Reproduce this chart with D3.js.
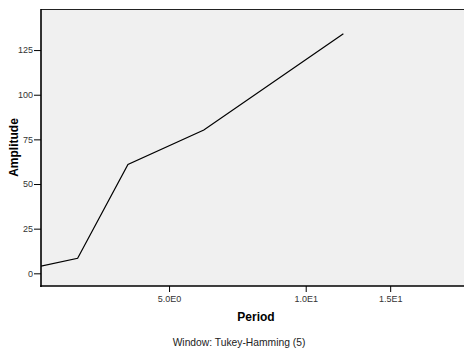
<!DOCTYPE html>
<html>
<head>
<meta charset="utf-8">
<script src="https://cdn.jsdelivr.net/npm/d3@7"></script>
<style>
  body { margin: 0; background: #fff; }
  svg { display: block; font-family: "Liberation Sans", Arial, sans-serif; }
</style>
</head>
<body>
<svg></svg>
<script>
var width = 464;
var height = 351;
var margin = {top: 9, bottom: 65, left: 41, right: -8};

// periodogram values
var periods = [2.4, 3, 4, 6, 12];
var amplitude = [4.0, 8.4, 61.0, 80.2, 134.2];
var yTicks = [0, 25, 50, 75, 100, 125];
var xTicks = [5, 10, 15];
var xTickLabels = ["5.0E0", "1.0E1", "1.5E1"];

var data = periods.map(function(p, i){ return {period: p, amp: amplitude[i]}; });

var svg = d3.select("svg")
    .attr("width", width)
    .attr("height", height);

// period axis is log(1+p) spaced
var xScale = d3.scaleSymlog().constant(1)
    .domain([2.4, 22])
    .range([margin.left, width - margin.right]);

var yScale = d3.scaleLinear()
    .domain([-7.1, 148])
    .range([height - margin.bottom - 0, margin.top]);

var x0 = margin.left, x1 = width - margin.right;
var y0 = height - margin.bottom, y1 = margin.top;

// plot background
svg.append("rect")
    .attr("x", x0).attr("y", y1)
    .attr("width", x1 - x0).attr("height", y0 - y1)
    .attr("fill", "#f0f0f0");

svg.append("line")
    .attr("x1", x0).attr("x2", x1)
    .attr("y1", y1 + 0.5).attr("y2", y1 + 0.5)
    .attr("stroke", "#222").attr("stroke-width", 1);

svg.append("clipPath").attr("id", "clip")
  .append("rect")
    .attr("x", x0).attr("y", y1)
    .attr("width", x1 - x0).attr("height", y0 - y1);

var line = d3.line()
    .x(function(d){ return xScale(d.period); })
    .y(function(d){ return yScale(d.amp); });

svg.append("path")
    .attr("d", line(data))
    .attr("clip-path", "url(#clip)")
    .attr("fill", "none")
    .attr("stroke", "#000")
    .attr("stroke-width", 1.2);

//Axes
var yAxis = d3.axisLeft(yScale)
    .tickValues(yTicks)
    .tickSize(7)
    .tickPadding(1)
    .tickFormat(d3.format("d"));

var xAxis = d3.axisBottom(xScale)
    .tickValues(xTicks)
    .tickSize(6)
    .tickPadding(4)
    .tickFormat(function(d, i){ return xTickLabels[i]; });

var gy = svg.append("g")
    .attr("transform", "translate(" + [x0, 0] + ")")
    .call(yAxis);

var gx = svg.append("g")
    .attr("transform", "translate(" + [0, y0] + ")")
    .call(xAxis);

[gx, gy].forEach(function(g){
    g.select(".domain").remove();
    g.selectAll(".tick line").attr("stroke", "#000");
    g.selectAll(".tick text")
        .attr("fill", "#333")
        .attr("font-size", "9px")
        .attr("font-family", "Liberation Sans, Arial, sans-serif");
});

// heavy axis lines
svg.append("line")
    .attr("x1", x0).attr("x2", x0)
    .attr("y1", y1).attr("y2", y0 + 1)
    .attr("stroke", "#000").attr("stroke-width", 1.6);
svg.append("line")
    .attr("x1", x0 - 0.8).attr("x2", x1)
    .attr("y1", y0).attr("y2", y0)
    .attr("stroke", "#000").attr("stroke-width", 1.6);

// titles
svg.append("text")
    .attr("transform", "translate(17.5," + ((y0 + y1) / 2) + ") rotate(-90)")
    .attr("text-anchor", "middle")
    .attr("font-size", "12px")
    .attr("font-weight", "bold")
    .attr("fill", "#000")
    .text("Amplitude");

svg.append("text")
    .attr("x", 256)
    .attr("y", 321)
    .attr("text-anchor", "middle")
    .attr("font-size", "12px")
    .attr("font-weight", "bold")
    .attr("fill", "#000")
    .text("Period");

svg.append("text")
    .attr("x", 239)
    .attr("y", 346)
    .attr("text-anchor", "middle")
    .attr("font-size", "10.3px")
    .attr("fill", "#222")
    .text("Window: Tukey-Hamming (5)");
</script>
</body>
</html>
